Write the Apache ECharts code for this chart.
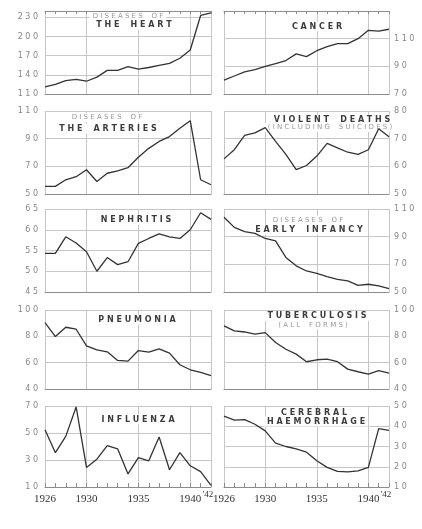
<!DOCTYPE html>
<html>
<head>
<meta charset="utf-8">
<script src="https://cdn.jsdelivr.net/npm/echarts@6/dist/echarts.min.js"></script>
<style>
	html, body { margin: 0; padding: 0; background: #fff; }
	#chart { width: 422px; height: 529px; }
</style>
</head>
<body>
<div id="chart"></div>
<script>
// 年份（类目）
var years = ['1926', '1927', '1928', '1929', '1930', '1931', '1932', '1933', '1934',
	'1935', '1936', '1937', '1938', '1939', '1940', '1941', '1942'];
var labelYears = ['1926', '1930', '1935', '1940', '1942'];
var gridYears = ['1926', '1930', '1935', '1940', '1942'];

// 各病因数值
var heart = [121, 125, 131, 133, 130, 136.5, 147, 147, 153, 149, 151.5, 155, 158, 166, 179, 233, 237];
var cancer = [80, 83, 86, 87.6, 90, 92, 94.2, 99, 97, 101.3, 104.3, 106.4, 106.4, 110, 116, 115.4, 116.8];
var arteries = [55.5, 55.5, 60.3, 62.5, 67.5, 59, 65, 66.8, 69, 76.6, 83, 88, 91.5, 97.5, 103, 60.3, 56.7];
var violent = [62.7, 66, 71.2, 72.1, 74, 69, 64.3, 58.8, 60.3, 63.7, 68.3, 66.7, 65.1, 64.3, 66, 73.6, 70.7];
var nephritis = [54.3, 54.3, 58.3, 56.8, 54.7, 50, 53.3, 51.6, 52.3, 56.7, 57.9, 59, 58.3, 57.9, 60, 64.1, 62.5];
var infancy = [104, 96.7, 93.6, 92.4, 88.7, 87, 75, 68.9, 65.2, 63.5, 61.1, 59.2, 58, 54.8, 55.6, 54.4, 52.4];
var pneumonia = [90.4, 79.8, 86.9, 85.4, 72.8, 69.7, 68.2, 61.7, 61.2, 69.2, 68, 70.5, 67.2, 58.4, 54.6, 52.6, 50.1];
var tuberculosis = [87.9, 84.1, 83.3, 81.6, 82.8, 75.3, 70.2, 66.5, 60.7, 62.2, 62.7, 60.7, 55.1, 53.1, 51.3, 53.9, 52.1];
var influenza = [52.4, 35.4, 47.5, 69.3, 24.5, 30.6, 40.7, 38.3, 19.7, 31.8, 29.4, 47, 22.8, 35.4, 25.7, 21.4, 11.2];
var cerebral = [45, 43, 43.3, 41, 37.7, 31.7, 30, 28.8, 27.2, 23, 19.7, 17.7, 17.5, 18, 19.7, 38.8, 38];

// 纵轴刻度标签
var heartTicks = [110, 140, 170, 200, 230];
var cancerTicks = [70, 90, 110];
var arteriesTicks = [50, 70, 90, 110];
var violentTicks = [50, 60, 70, 80];
var nephritisTicks = [45, 50, 55, 60, 65];
var infancyTicks = [50, 70, 90, 110];
var pneumoniaTicks = [40, 60, 80, 100];
var tuberculosisTicks = [40, 60, 80, 100];
var influenzaTicks = [10, 30, 50, 70];
var cerebralTicks = [10, 20, 30, 40, 50];

var panels = [
	{ data: heart, ticks: heartTicks, min: 110, max: 240, step: 30, row: 0, col: 0,
		title: [['DISEASES OF', 128, 16.5, 0], ['THE HEART', 134, 25, 1]] },
	{ data: cancer, ticks: cancerTicks, min: 70, max: 130, step: 20, row: 0, col: 1,
		title: [['CANCER', 317, 26.5, 1]] },
	{ data: arteries, ticks: arteriesTicks, min: 50, max: 110, step: 20, row: 1, col: 0,
		title: [['DISEASES OF', 107, 117.5, 0], ['THE ARTERIES', 108, 128.5, 1]] },
	{ data: violent, ticks: violentTicks, min: 50, max: 80, step: 10, row: 1, col: 1,
		title: [['VIOLENT DEATHS', 332, 119.5, 1], ['(INCLUDING SUICIDES)', 330, 127.5, 0]] },
	{ data: nephritis, ticks: nephritisTicks, min: 45, max: 65, step: 5, row: 2, col: 0,
		title: [['NEPHRITIS', 136, 220, 1]] },
	{ data: infancy, ticks: infancyTicks, min: 50, max: 110, step: 20, row: 2, col: 1,
		title: [['DISEASES OF', 308, 220, 0], ['EARLY INFANCY', 309, 229.5, 1]] },
	{ data: pneumonia, ticks: pneumoniaTicks, min: 40, max: 100, step: 20, row: 3, col: 0,
		title: [['PNEUMONIA', 137, 320, 1]] },
	{ data: tuberculosis, ticks: tuberculosisTicks, min: 40, max: 100, step: 20, row: 3, col: 1,
		title: [['TUBERCULOSIS', 317, 316, 1], ['(ALL FORMS)', 313, 325, 0]] },
	{ data: influenza, ticks: influenzaTicks, min: 10, max: 70, step: 20, row: 4, col: 0,
		title: [['INFLUENZA', 138, 419.5, 1]] },
	{ data: cerebral, ticks: cerebralTicks, min: 10, max: 50, step: 10, row: 4, col: 1,
		title: [['CEREBRAL', 314, 413, 1], ['HAEMORRHAGE', 316, 421.5, 1]] }
];

var colLeft = [45, 224];
var colWidth = [166, 165];
var rowTop = [11, 111, 209, 310, 406];
var rowHeight = [83, 83, 83, 79, 81];

function spaced (s) {
	return s.split('').join(' ');
}

var grid = [], xAxis = [], yAxis = [], series = [], graphic = [];

panels.forEach(function (p, i) {
	var bottomRow = p.row === 4;
	grid.push({
		left: colLeft[p.col], top: rowTop[p.row],
		width: colWidth[p.col], height: rowHeight[p.row],
		containLabel: false, outerBoundsMode: 'none'
	});
	xAxis.push({
		type: 'category', gridIndex: i, data: years, boundaryGap: false,
		axisLine: { show: true, lineStyle: { color: '#8c8c8c', width: 1 } },
		axisTick: {
			show: bottomRow, inside: true, length: 4, interval: 0,
			lineStyle: { color: '#8c8c8c' }
		},
		axisLabel: {
			show: bottomRow, margin: 1,
			interval: function (idx, val) { return labelYears.indexOf(val) >= 0; },
			formatter: function (val) {
				return val === '1942' ? "{s|'42}" : '{y|' + val + '}';
			},
			rich: {
				y: { fontFamily: 'Liberation Serif', fontSize: 11, color: '#333', padding: [6, 0, 0, 0] },
				s: { fontFamily: 'Liberation Serif', fontSize: 9, color: '#333', padding: [2, 6, 0, 0] }
			}
		},
		splitLine: {
			show: true,
			interval: function (idx, val) { return gridYears.indexOf(val) >= 0; },
			lineStyle: { color: '#c6c6c6', width: 1 }
		}
	});
	yAxis.push({
		type: 'value', gridIndex: i, min: p.min, max: p.max, interval: p.step,
		position: p.col === 0 ? 'left' : 'right',
		axisLine: { show: false },
		axisTick: { show: false },
		axisLabel: {
			margin: p.col === 0 ? 7 : 5,
			fontFamily: 'DejaVu Sans', fontSize: 8, color: '#888',
			formatter: function (v) {
				return p.ticks.indexOf(v) >= 0 ? spaced(String(v)) : '';
			}
		},
		splitLine: { show: true, lineStyle: { color: '#c6c6c6', width: 1 } }
	});
	series.push({
		type: 'line', xAxisIndex: i, yAxisIndex: i, data: p.data,
		symbol: 'none', silent: true, z: 3,
		lineStyle: { color: '#333', width: 1.3 }
	});
	p.title.forEach(function (t) {
		graphic.push({
			type: 'text', x: t[1], y: t[2], z: 1,
			style: {
				text: spaced(t[0]).replace(/   /g, '    '),
				font: t[3] ? 'bold 8px "DejaVu Sans"' : '7px "DejaVu Sans"',
				fill: t[3] ? '#3c3c3c' : '#999',
				align: 'center', verticalAlign: 'middle',
				backgroundColor: '#fff', padding: [1, 3]
			}
		});
	});
});

// 顶部一行的年份刻度
[0, 1].forEach(function (g) {
	xAxis.push({
		type: 'category', gridIndex: g, data: years, boundaryGap: false, position: 'top',
		axisLine: { show: true, lineStyle: { color: '#8c8c8c', width: 1 } },
		axisTick: { show: true, inside: true, length: 3, interval: 0, lineStyle: { color: '#8c8c8c' } },
		axisLabel: { show: false },
		splitLine: { show: false }
	});
});

var chart = echarts.init(document.getElementById('chart'));
chart.setOption({
	animation: false,
	backgroundColor: '#fff',
	grid: grid,
	xAxis: xAxis,
	yAxis: yAxis,
	series: series,
	graphic: graphic
});
</script>
</body>
</html>
